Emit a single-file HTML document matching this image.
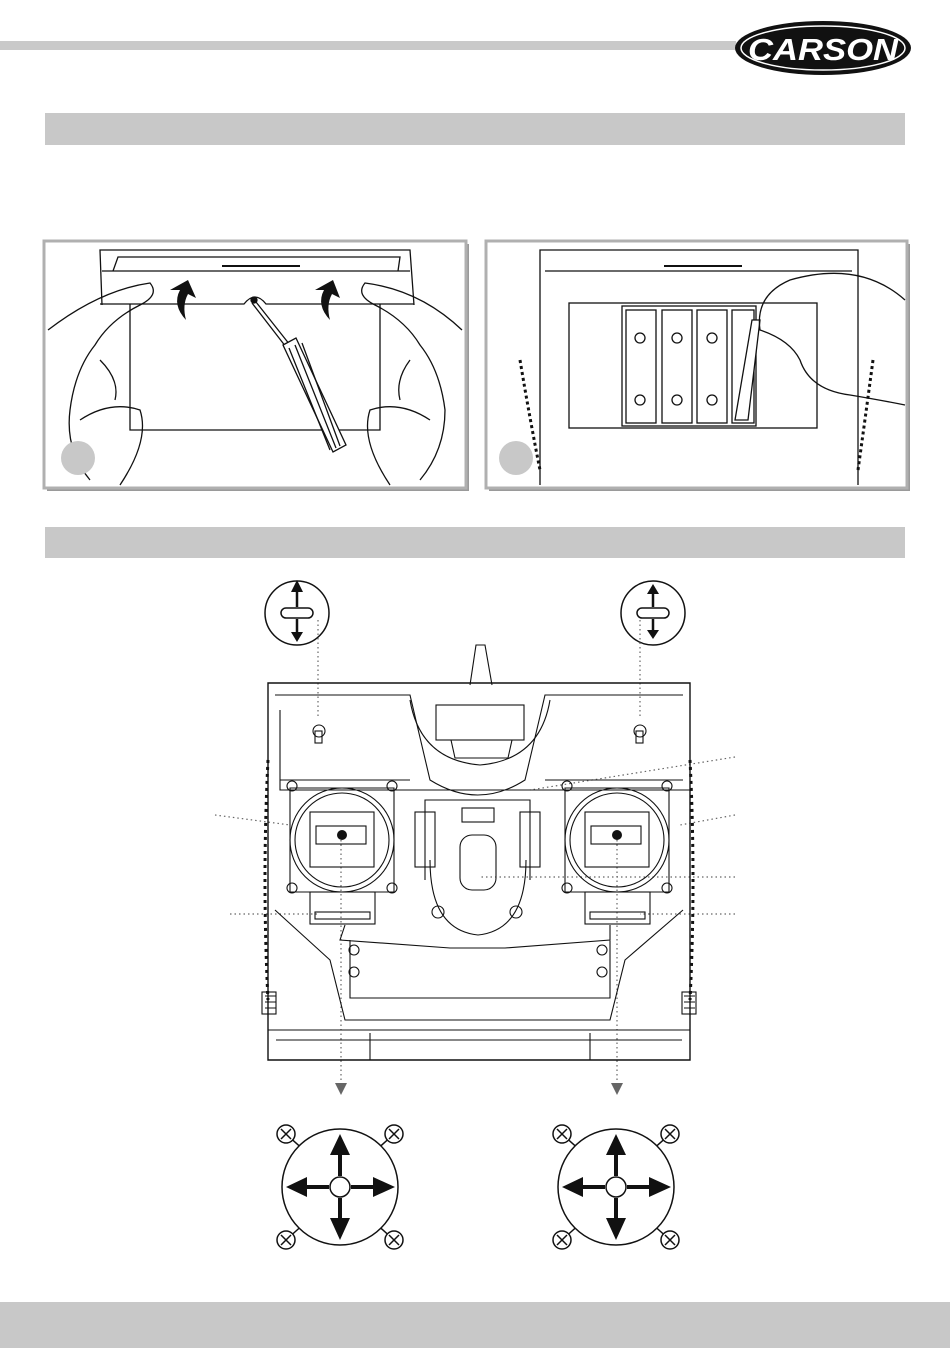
<!DOCTYPE html>
<html><head><meta charset="utf-8"><style>
html,body{margin:0;padding:0;background:#fff;}
svg{display:block;}
</style></head><body>
<svg width="950" height="1348" viewBox="0 0 950 1348" xmlns="http://www.w3.org/2000/svg" font-family="Liberation Sans, sans-serif">
<rect x="0" y="41" width="736" height="9" fill="#c9c9c9"/>
<g>
<ellipse cx="823" cy="48" rx="88" ry="27" fill="#111"/>
<ellipse cx="823" cy="48" rx="82" ry="22" fill="none" stroke="#fff" stroke-width="1.5"/>
<text x="823" y="60" text-anchor="middle" font-size="31" font-weight="bold" font-style="italic" fill="#fff" textLength="150" lengthAdjust="spacingAndGlyphs">CARSON</text>
</g>
<rect x="45" y="113" width="860" height="32" fill="#c8c8c8"/>
<rect x="45" y="527" width="860" height="31" fill="#c8c8c8"/>
<rect x="0" y="1302" width="950" height="46" fill="#c8c8c8"/>

<!-- panel 1 -->
<rect x="47" y="244" width="422" height="247" fill="#9a9a9a"/>
<rect x="44" y="241" width="422" height="247" fill="#fff" stroke="#b0b0b0" stroke-width="3"/>
<g fill="none" stroke="#111" stroke-width="1.3">
<path d="M102 305 L100 250 L410 250 L414 305"/>
<path d="M102 271 L410 271"/><path d="M113 271 L118 257 L400 257 L398 271"/>
<path d="M222 266 L300 266" stroke-width="2"/>
<path d="M100 304 L244 304 Q255 290 266 304 L414 304"/>
<path d="M130 304 L130 430 L380 430 L380 304"/>
<circle cx="254" cy="300" r="3" fill="#111"/>
<path d="M256 302 L290 345 M252 303 L286 347"/>
<path d="M283 345 L296 338 L346 445 L333 452 Z" fill="#fff"/>
<path d="M295 345 L336 448 M302 343 L340 446 M289 348 L330 450"/>
<path d="M48 330 Q100 290 150 283 Q160 295 140 305 Q110 320 95 345 Q75 370 70 410 Q65 450 90 480"/>
<path d="M462 330 Q420 290 365 283 Q355 295 375 305 Q405 320 420 345 Q440 370 445 410 Q445 450 420 480"/>
<path d="M100 360 Q120 380 115 400 M80 420 Q110 400 140 410 Q150 440 120 485"/>
<path d="M410 360 Q395 380 400 400 M430 420 Q400 400 370 410 Q360 440 390 485"/>
</g>
<path d="M170 290 L188 280 L196 298 L188 294 Q182 305 186 320 Q172 305 180 290 Z" fill="#111"/>
<path d="M315 290 L333 280 L340 298 L332 294 Q326 305 330 320 Q316 305 324 290 Z" fill="#111"/>
<circle cx="78" cy="458" r="17" fill="#c8c8c8"/>

<!-- panel 2 -->
<rect x="489" y="244" width="421" height="247" fill="#9a9a9a"/>
<rect x="486" y="241" width="421" height="247" fill="#fff" stroke="#b0b0b0" stroke-width="3"/>
<g fill="none" stroke="#111" stroke-width="1.3">
<path d="M540 485 L540 250 L858 250 L858 485"/>
<path d="M545 271 L852 271"/><path d="M664 266 L742 266" stroke-width="2"/>
<path d="M520 360 Q530 420 540 470 M873 360 Q865 420 858 470" stroke-width="3" stroke-dasharray="3 3"/>
<rect x="569" y="303" width="248" height="125"/>
<rect x="622" y="306" width="134" height="120"/>
<rect x="626" y="310" width="30" height="113"/><rect x="662" y="310" width="30" height="113"/><rect x="697" y="310" width="30" height="113"/><rect x="732" y="310" width="22" height="113"/>
<circle cx="640" cy="338" r="5"/><circle cx="677" cy="338" r="5"/><circle cx="712" cy="338" r="5"/>
<circle cx="640" cy="400" r="5"/><circle cx="677" cy="400" r="5"/><circle cx="712" cy="400" r="5"/>
<path d="M735 420 L752 320 L760 320 L748 420 Z" fill="#fff"/>
<path d="M905 300 Q860 260 790 280 Q755 295 760 330 Q790 340 800 360 Q810 390 850 395 Q880 400 905 405"/>
</g>
<circle cx="516" cy="458" r="17" fill="#c8c8c8"/>

<!-- switch circles -->
<g fill="none" stroke="#111" stroke-width="1.5">
<circle cx="297" cy="613" r="32"/><circle cx="653" cy="613" r="32"/>
<rect x="281" y="608" width="32" height="10" rx="5"/><rect x="637" y="608" width="32" height="10" rx="5"/>
</g>
<g stroke="#111" stroke-width="2.5">
<path d="M297 607 L297 590 M297 619 L297 634 M653 607 L653 592 M653 619 L653 632"/>
</g>
<g fill="#111">
<path d="M291 592 L297 580 L303 592Z M291 632 L297 642 L303 632Z M647 594 L653 584 L659 594Z M647 630 L653 639 L659 630Z"/>
</g>
<g stroke="#666" stroke-width="1.2" stroke-dasharray="1.5 3" fill="none">
<path d="M318 620 L318 718 M640 620 L640 718"/>
<path d="M341 840 L341 1080 M617 840 L617 1080"/>
<path d="M215 815 L290 825 M230 914 L320 914 M735 757 L530 790 M735 815 L680 825 M735 877 L480 877 M735 914 L640 914"/>
</g>
<g fill="#666"><path d="M335 1083 L347 1083 L341 1095Z M611 1083 L623 1083 L617 1095Z"/></g>

<!-- transmitter -->
<g fill="none" stroke="#111" stroke-width="1.1">
<path d="M470 685 L476 645 L485 645 L492 685"/>
<path d="M268 1060 L268 683 L690 683 L690 1060 Z" stroke-width="1.4"/>
<path d="M275 695 L410 695 L430 780 Q478 810 525 780 L545 695 L683 695"/>
<path d="M280 710 L280 790 L690 790 M280 780 L410 780 M545 780 L683 780"/>
<rect x="436" y="705" width="88" height="35"/>
<path d="M451 740 L455 758 L508 758 L512 740"/>
<path d="M410 700 Q420 760 480 765 Q540 760 550 700"/>
<circle cx="319" cy="731" r="6"/><rect x="315" y="731" width="7" height="12"/>
<circle cx="640" cy="731" r="6"/><rect x="636" y="731" width="7" height="12"/>
<circle cx="342" cy="840" r="52"/><circle cx="342" cy="840" r="47"/>
<circle cx="617" cy="840" r="52"/><circle cx="617" cy="840" r="47"/>
<path d="M290 788 L394 788 L394 892 L290 892 Z M565 788 L669 788 L669 892 L565 892 Z"/>
<rect x="310" y="812" width="64" height="55"/><rect x="316" y="826" width="50" height="18"/>
<rect x="585" y="812" width="64" height="55"/><rect x="591" y="826" width="50" height="18"/>
<circle cx="292" cy="786" r="5"/><circle cx="392" cy="786" r="5"/><circle cx="292" cy="888" r="5"/><circle cx="392" cy="888" r="5"/>
<circle cx="567" cy="786" r="5"/><circle cx="667" cy="786" r="5"/><circle cx="567" cy="888" r="5"/><circle cx="667" cy="888" r="5"/>
<rect x="310" y="892" width="65" height="32"/><rect x="585" y="892" width="65" height="32"/>
<rect x="315" y="912" width="55" height="7"/><rect x="590" y="912" width="55" height="7"/>
<rect x="415" y="812" width="20" height="55"/><rect x="520" y="812" width="20" height="55"/>
<rect x="460" y="835" width="36" height="55" rx="12"/>
<rect x="462" y="808" width="32" height="14"/>
<path d="M430 860 Q430 930 478 935 Q526 930 526 860 M425 880 L425 800 L530 800 L530 880"/>
<circle cx="438" cy="912" r="6"/><circle cx="516" cy="912" r="6"/>
<path d="M345 925 L340 940 L450 948 L505 948 L610 940 L610 925 M350 940 L350 998 L610 998 L610 940"/>
<circle cx="354" cy="950" r="5"/><circle cx="354" cy="972" r="5"/><circle cx="602" cy="950" r="5"/><circle cx="602" cy="972" r="5"/>
<path d="M275 910 L330 960 L345 1020 L610 1020 L625 960 L683 910"/>
<path d="M268 1030 L690 1030 M370 1033 L370 1060 M590 1033 L590 1060"/>
<path d="M276 1040 L682 1040"/>
<rect x="262" y="992" width="14" height="22"/><rect x="682" y="992" width="14" height="22"/>
<path d="M265 996 L276 996 M265 1002 L276 1002 M265 1008 L276 1008 M684 996 L695 996 M684 1002 L695 1002 M684 1008 L695 1008"/>
</g>
<g fill="#111"><circle cx="342" cy="835" r="5"/><circle cx="617" cy="835" r="5"/></g>
<path d="M268 760 Q262 880 268 1000 M690 760 Q696 880 690 1000" fill="none" stroke="#111" stroke-width="3" stroke-dasharray="3 4"/>

<!-- stick diagrams -->
<g fill="none" stroke="#111" stroke-width="1.5">
<path d="M286 1134 L306 1152 M394 1134 L374 1152 M286 1240 L306 1222 M394 1240 L374 1222"/>
<path d="M562 1134 L582 1152 M670 1134 L650 1152 M562 1240 L582 1222 M670 1240 L650 1222"/>
<circle cx="340" cy="1187" r="58" fill="#fff"/>
<circle cx="340" cy="1187" r="10"/>
<circle cx="286" cy="1134" r="9" fill="#fff"/><circle cx="394" cy="1134" r="9" fill="#fff"/><circle cx="286" cy="1240" r="9" fill="#fff"/><circle cx="394" cy="1240" r="9" fill="#fff"/>
<circle cx="616" cy="1187" r="58" fill="#fff"/>
<circle cx="616" cy="1187" r="10"/>
<circle cx="562" cy="1134" r="9" fill="#fff"/><circle cx="670" cy="1134" r="9" fill="#fff"/><circle cx="562" cy="1240" r="9" fill="#fff"/><circle cx="670" cy="1240" r="9" fill="#fff"/>
<path d="M281 1129 L291 1139 M291 1129 L281 1139 M389 1129 L399 1139 M399 1129 L389 1139 M281 1235 L291 1245 M291 1235 L281 1245 M389 1235 L399 1245 M399 1235 L389 1245"/>
<path d="M557 1129 L567 1139 M567 1129 L557 1139 M665 1129 L675 1139 M675 1129 L665 1139 M557 1235 L567 1245 M567 1235 L557 1245 M665 1235 L675 1245 M675 1235 L665 1245"/>
</g>
<g stroke="#111" stroke-width="4">
<path d="M340 1176 L340 1150 M340 1198 L340 1222 M329 1187 L303 1187 M351 1187 L377 1187"/>
<path d="M616 1176 L616 1150 M616 1198 L616 1222 M605 1187 L579 1187 M627 1187 L653 1187"/>
</g>
<g fill="#111">
<path d="M330 1155 L340 1134 L350 1155Z M330 1218 L340 1240 L350 1218Z M307 1177 L286 1187 L307 1197Z M373 1177 L395 1187 L373 1197Z"/>
<path d="M606 1155 L616 1134 L626 1155Z M606 1218 L616 1240 L626 1218Z M583 1177 L562 1187 L583 1197Z M649 1177 L671 1187 L649 1197Z"/>
</g>
</svg>
</body></html>
